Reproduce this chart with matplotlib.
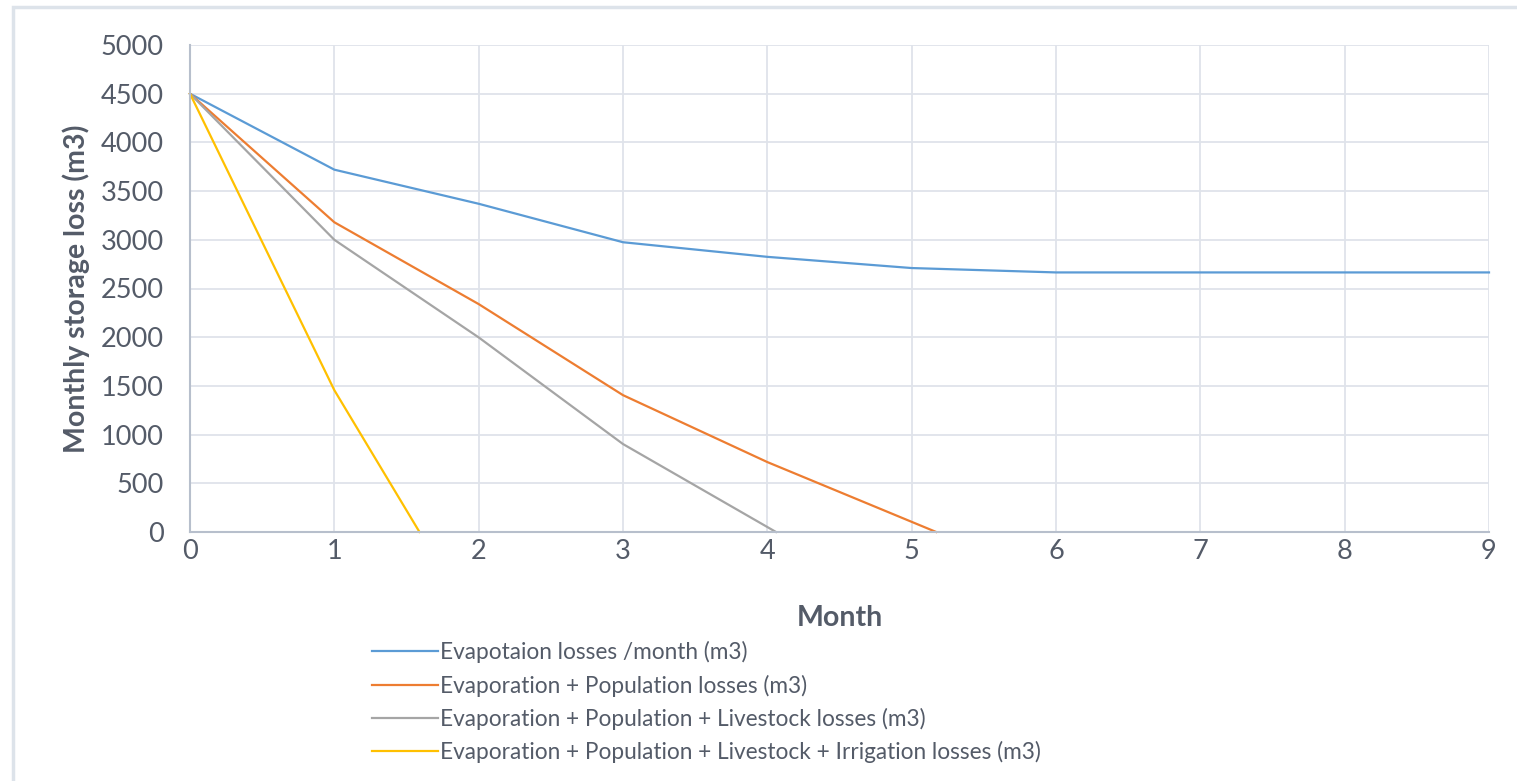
import matplotlib
matplotlib.use('Agg')
import matplotlib.pyplot as plt
from matplotlib.patches import Rectangle

plt.rcParams['font.family'] = ['Lato', 'DejaVu Sans']

# data
months_evap = [0, 1, 2, 3, 4, 5, 6, 7, 8, 9]
evap = [4500, 3720, 3370, 2975, 2825, 2710, 2665, 2665, 2665, 2665]

months_pop = [0, 1, 2, 3, 4, 5.17]
evap_pop = [4500, 3180, 2340, 1405, 718, 0]

months_live = [0, 1, 2, 3, 4.06]
evap_pop_live = [4500, 3000, 1998, 903, 0]

months_irr = [0, 1, 1.59]
evap_pop_live_irr = [4500, 1456, 0]

labels = ['Evapotaion losses /month (m3)',
          'Evaporation + Population losses (m3)',
          'Evaporation + Population + Livestock losses (m3)',
          'Evaporation + Population + Livestock + Irrigation losses (m3)']
colors = ['#5b9bd5', '#ed7d31', '#a5a5a5', '#ffc000']

text_c = '#545b68'
grid_c = '#dfe3ea'
axis_c = '#b7bfcc'

W, H = 1517, 781
fig = plt.figure(figsize=(W / 100, H / 100), dpi=100)
ax = fig.add_axes([190 / W, 1 - 532 / H, (1489 - 190) / W, (532 - 45) / H])

# outer chart border (clipped by the image edges)
fig.patches.append(Rectangle((13 / W, -0.05), 1.1, 1 - 7 / H + 0.05, transform=fig.transFigure,
                             fill=False, edgecolor='#dde3ea', linewidth=2.5))

xs = [months_evap, months_pop, months_live, months_irr]
ys = [evap, evap_pop, evap_pop_live, evap_pop_live_irr]
for x, y, lab, c in zip(xs, ys, labels, colors):
    ax.plot(x, y, color=c, linewidth=1.6, label=lab, clip_on=False)

ax.set_xlim(0, 9)
ax.set_ylim(0, 5000)
ax.set_xticks(range(0, 10))
ax.set_yticks(range(0, 5001, 500))
ax.grid(True, color=grid_c, linewidth=1.3)
ax.set_axisbelow(True)
for s in ['top', 'right']:
    ax.spines[s].set_visible(False)
for s in ['left', 'bottom']:
    ax.spines[s].set_color(axis_c)
    ax.spines[s].set_linewidth(1.5)
ax.tick_params(axis='both', length=0, labelsize=19.5, colors=text_c)
ax.tick_params(axis='y', pad=19)
ax.tick_params(axis='x', pad=5)

ax.set_xlabel('Month', fontsize=20.5, fontweight='bold', color=text_c)
ax.set_ylabel('Monthly storage loss (m3)', fontsize=20.5, fontweight='bold', color=text_c)
ax.xaxis.set_label_coords(0.5, (532 - 605) / 487)
ax.yaxis.set_label_coords((90 - 190) / 1299, 0.5)

leg = fig.legend(loc='upper left', bbox_to_anchor=(372 / W, 1 - 641 / H), frameon=False,
                 fontsize=16.3, handlelength=2.9, handletextpad=0.12, labelspacing=0.5,
                 borderpad=0, borderaxespad=0)
for t in leg.get_texts():
    t.set_color(text_c)

fig.savefig('out.png', dpi=100)
